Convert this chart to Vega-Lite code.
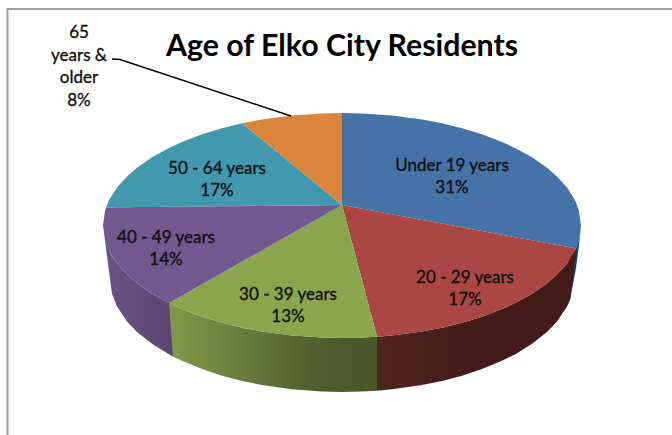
{"$schema":"https://vega.github.io/schema/vega-lite/v6.json","width":672,"height":435,"padding":0,"autosize":{"type":"none"},"background":"white","view":{"stroke":null},
"datasets":{
"top":[
{"part":"Under 19 years","x":342,"y":113,"y2":205},{"part":"Under 19 years","x":362,"y":113.4,"y2":208.7},{"part":"Under 19 years","x":392,"y":115.5,"y2":214.3},{"part":"Under 19 years","x":422,"y":119.5,"y2":219.9},{"part":"Under 19 years","x":442,"y":123.3,"y2":223.6},{"part":"Under 19 years","x":462,"y":128.2,"y2":227.3},{"part":"Under 19 years","x":482,"y":134.3,"y2":231},{"part":"Under 19 years","x":502,"y":141.9,"y2":234.7},{"part":"Under 19 years","x":515,"y":147.9,"y2":237.2},{"part":"Under 19 years","x":532,"y":157.2,"y2":240.3},{"part":"Under 19 years","x":547,"y":167.7,"y2":243.1},{"part":"Under 19 years","x":557,"y":176.4,"y2":245},{"part":"Under 19 years","x":567,"y":187.6,"y2":246.8},{"part":"Under 19 years","x":574,"y":198.5,"y2":248.1},{"part":"Under 19 years","x":576,"y":202.6,"y2":248.5},{"part":"Under 19 years","x":579,"y":211,"y2":240},{"part":"Under 19 years","x":581,"y":225.5,"y2":225.5},
{"part":"20 - 29 years","x":342,"y":205,"y2":205},{"part":"20 - 29 years","x":377,"y":211.5,"y2":336.8},{"part":"20 - 29 years","x":392,"y":214.3,"y2":335.5},{"part":"20 - 29 years","x":422,"y":219.9,"y2":331.5},{"part":"20 - 29 years","x":442,"y":223.6,"y2":327.7},{"part":"20 - 29 years","x":462,"y":227.3,"y2":322.8},{"part":"20 - 29 years","x":482,"y":231,"y2":316.7},{"part":"20 - 29 years","x":502,"y":234.7,"y2":309.1},{"part":"20 - 29 years","x":515,"y":237.2,"y2":303.1},{"part":"20 - 29 years","x":532,"y":240.3,"y2":293.8},{"part":"20 - 29 years","x":547,"y":243.1,"y2":283.3},{"part":"20 - 29 years","x":557,"y":245,"y2":274.6},{"part":"20 - 29 years","x":567,"y":246.8,"y2":263.4},{"part":"20 - 29 years","x":576,"y":248.5,"y2":248.5},
{"part":"30 - 39 years","x":169,"y":303.1,"y2":303.1},{"part":"30 - 39 years","x":182,"y":295.7,"y2":309.1},{"part":"30 - 39 years","x":202,"y":284.4,"y2":316.7},{"part":"30 - 39 years","x":222,"y":273,"y2":322.8},{"part":"30 - 39 years","x":242,"y":261.7,"y2":327.7},{"part":"30 - 39 years","x":262,"y":250.4,"y2":331.5},{"part":"30 - 39 years","x":292,"y":233.4,"y2":335.5},{"part":"30 - 39 years","x":322,"y":216.3,"y2":337.6},{"part":"30 - 39 years","x":342,"y":205,"y2":338},{"part":"30 - 39 years","x":362,"y":280.3,"y2":337.6},{"part":"30 - 39 years","x":377,"y":336.8,"y2":336.8},
{"part":"40 - 49 years","x":103,"y":225.5,"y2":225.5},{"part":"40 - 49 years","x":105,"y":211,"y2":240},{"part":"40 - 49 years","x":106,"y":207.8,"y2":243.2},{"part":"40 - 49 years","x":107,"y":207.4,"y2":246},{"part":"40 - 49 years","x":110,"y":207.4,"y2":252.5},{"part":"40 - 49 years","x":117,"y":207.3,"y2":263.4},{"part":"40 - 49 years","x":127,"y":207.2,"y2":274.6},{"part":"40 - 49 years","x":137,"y":207.1,"y2":283.3},{"part":"40 - 49 years","x":152,"y":206.9,"y2":293.8},{"part":"40 - 49 years","x":169,"y":206.8,"y2":303.1},{"part":"40 - 49 years","x":182,"y":206.6,"y2":295.7},{"part":"40 - 49 years","x":222,"y":206.3,"y2":273},{"part":"40 - 49 years","x":262,"y":205.8,"y2":250.4},{"part":"40 - 49 years","x":302,"y":205.4,"y2":227.7},{"part":"40 - 49 years","x":342,"y":205,"y2":205},
{"part":"50 - 64 years","x":106,"y":207.8,"y2":207.8},{"part":"50 - 64 years","x":107,"y":205,"y2":207.4},{"part":"50 - 64 years","x":110,"y":198.5,"y2":207.4},{"part":"50 - 64 years","x":117,"y":187.6,"y2":207.3},{"part":"50 - 64 years","x":127,"y":176.4,"y2":207.2},{"part":"50 - 64 years","x":137,"y":167.7,"y2":207.1},{"part":"50 - 64 years","x":152,"y":157.2,"y2":206.9},{"part":"50 - 64 years","x":169,"y":147.9,"y2":206.8},{"part":"50 - 64 years","x":182,"y":141.9,"y2":206.6},{"part":"50 - 64 years","x":202,"y":134.3,"y2":206.4},{"part":"50 - 64 years","x":222,"y":128.2,"y2":206.3},{"part":"50 - 64 years","x":242,"y":123.3,"y2":206},{"part":"50 - 64 years","x":342,"y":205,"y2":205},
{"part":"65 years & older","x":242,"y":123.3,"y2":123.3},{"part":"65 years & older","x":262,"y":119.5,"y2":139.6},{"part":"65 years & older","x":292,"y":115.5,"y2":164.2},{"part":"65 years & older","x":322,"y":113.4,"y2":188.7},{"part":"65 years & older","x":342,"y":113,"y2":205}
],
"wallPurple":[{"x":103,"y":225.5,"y2":225.5},{"x":105,"y":240,"y2":241},{"x":106,"y":243.2,"y2":248.4},{"x":107,"y":246,"y2":256},{"x":110,"y":252.5,"y2":279},{"x":112,"y":256.1,"y2":293.8},{"x":117,"y":263.4,"y2":306.6},{"x":127,"y":274.6,"y2":321.5},{"x":137,"y":283.3,"y2":331.9},{"x":152,"y":293.8,"y2":343.8},{"x":169,"y":303.1,"y2":354.3},{"x":173,"y":305,"y2":356.4}],
"wallGreen":[{"x":169,"y":303.1,"y2":303.1},{"x":173,"y":305,"y2":356.4},{"x":182,"y":309.1,"y2":360.8},{"x":202,"y":316.7,"y2":369.1},{"x":222,"y":322.8,"y2":375.7},{"x":242,"y":327.7,"y2":381},{"x":262,"y":331.5,"y2":385.1},{"x":292,"y":335.5,"y2":389.3},{"x":322,"y":337.6,"y2":391.6},{"x":342,"y":338,"y2":392},{"x":362,"y":337.6,"y2":391.6},{"x":377,"y":336.8,"y2":390.7}],
"wallRed":[{"x":377,"y":336.8,"y2":390.7},{"x":392,"y":335.5,"y2":389.3},{"x":422,"y":331.5,"y2":385.1},{"x":442,"y":327.7,"y2":381},{"x":462,"y":322.8,"y2":375.7},{"x":482,"y":316.7,"y2":369.1},{"x":502,"y":309.1,"y2":360.8},{"x":515,"y":303.1,"y2":354.4},{"x":532,"y":293.8,"y2":343.8},{"x":547,"y":283.3,"y2":331.9},{"x":557,"y":274.6,"y2":321.5},{"x":567,"y":263.4,"y2":306.6},{"x":570,"y":258,"y2":299.9},{"x":576,"y":248.5,"y2":248.5}],
"wallBlue":[{"x":570,"y":258,"y2":299.9},{"x":574,"y":252.5,"y2":279},{"x":576,"y":248.5,"y2":268},{"x":579,"y":240,"y2":245},{"x":581,"y":225.5,"y2":225.5}],
"lines":[{"g":"frame","o":1,"x":672,"y":9},{"g":"frame","o":2,"x":7.5,"y":9},{"g":"frame","o":3,"x":7.5,"y":435},{"g":"leader","o":1,"x":112,"y":59},{"g":"leader","o":2,"x":120,"y":59.5},{"g":"leader","o":3,"x":291,"y":116}],
"labels":[{"t":"Under 19 years\n31%","x":452,"y":165.5},{"t":"20 - 29 years\n17%","x":465,"y":277.5},{"t":"30 - 39 years\n13%","x":288,"y":294.5},{"t":"40 - 49 years\n14%","x":166,"y":237.5},{"t":"50 - 64 years\n17%","x":217,"y":168.5},{"t":"65\nyears &\nolder\n8%","x":79,"y":33}],
"title":[{"t":"Age of Elko City Residents","x":342,"y":46.5}]
},
"encoding":{
"x":{"field":"x","type":"quantitative","axis":null,"scale":{"domain":[0,672],"nice":false,"zero":false}},
"y":{"field":"y","type":"quantitative","axis":null,"stack":null,"scale":{"domain":[0,435],"reverse":true,"nice":false,"zero":false}}
},
"layer":[
{"data":{"name":"lines"},"mark":{"type":"line","color":"#a0a0a0","strokeWidth":2,"clip":false},"transform":[{"filter":"datum.g==='frame'"}],"encoding":{"order":{"field":"o"}}},
{"data":{"name":"wallBlue"},"mark":{"type":"area","color":"#1d3a5e"},"encoding":{"y2":{"field":"y2"}}},
{"data":{"name":"wallPurple"},"mark":{"type":"area","color":{"gradient":"linear","x1":0,"x2":1,"y1":0,"y2":0,"stops":[{"offset":0,"color":"#6a5384"},{"offset":1,"color":"#5a4470"}]}},"encoding":{"y2":{"field":"y2"}}},
{"data":{"name":"wallGreen"},"mark":{"type":"area","color":{"gradient":"linear","x1":0,"x2":1,"y1":0,"y2":0,"stops":[{"offset":0,"color":"#80994b"},{"offset":0.7,"color":"#4f5f2e"},{"offset":1,"color":"#4a5729"}]}},"encoding":{"y2":{"field":"y2"}}},
{"data":{"name":"wallRed"},"mark":{"type":"area","color":{"gradient":"linear","x1":0,"x2":1,"y1":0,"y2":0,"stops":[{"offset":0,"color":"#4f2320"},{"offset":0.5,"color":"#431b18"},{"offset":1,"color":"#431b18"}]}},"encoding":{"y2":{"field":"y2"}}},
{"data":{"name":"top"},"mark":{"type":"area"},"encoding":{"y2":{"field":"y2"},"color":{"field":"part","type":"nominal","legend":null,"scale":{"domain":["Under 19 years","20 - 29 years","30 - 39 years","40 - 49 years","50 - 64 years","65 years & older"],"range":["#4572A7","#AA4643","#89A54E","#71588F","#4198AF","#DB843D"]}}}},
{"data":{"name":"lines"},"mark":{"type":"line","color":"#000000","strokeWidth":1.5},"transform":[{"filter":"datum.g==='leader'"}],"encoding":{"order":{"field":"o"}}},
{"data":{"name":"labels"},"mark":{"type":"text","font":"Lato","fontSize":17,"color":"#111111","stroke":"#111111","strokeWidth":0.35,"align":"center","baseline":"middle","lineBreak":"\n","lineHeight":22.7},"encoding":{"text":{"field":"t"}}},
{"data":{"name":"title"},"mark":{"type":"text","font":"Lato","fontSize":30.3,"fontWeight":"bold","color":"#000000","align":"center","baseline":"middle"},"encoding":{"text":{"field":"t"}}}
]}
